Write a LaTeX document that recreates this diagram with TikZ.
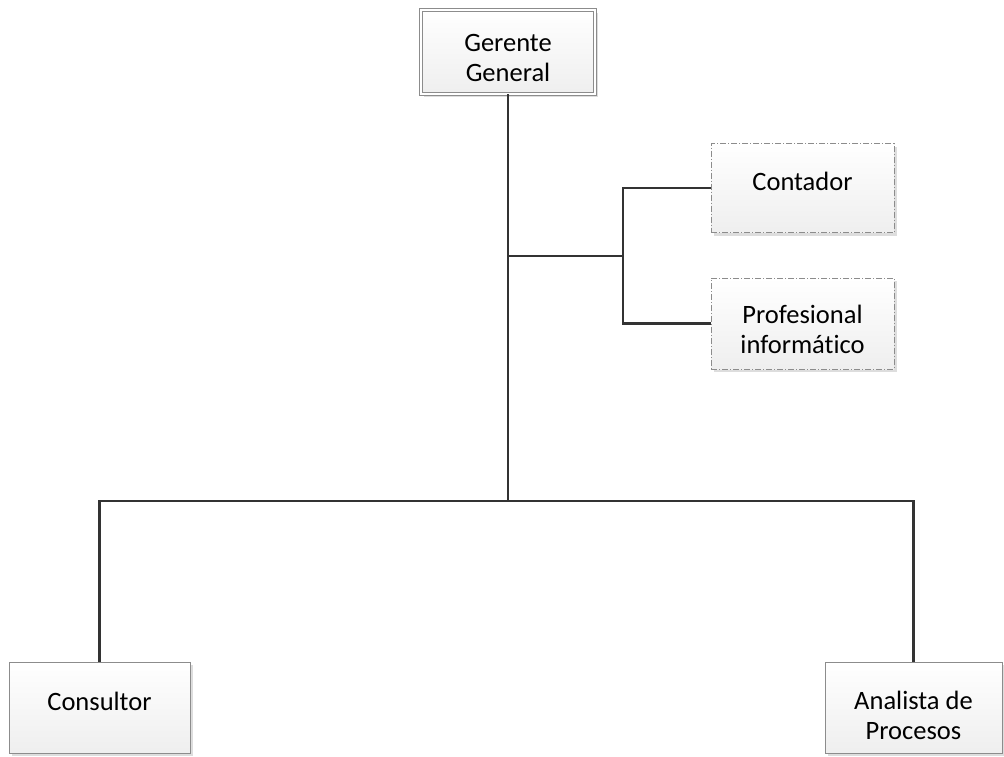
\documentclass[tikz,border=0pt]{standalone}
\usepackage{fontspec}
\setmainfont{Carlito}[Ligatures={NoCommon}]
\usetikzlibrary{shadows}
\definecolor{boxline}{HTML}{8C8C8C}
\definecolor{conn}{HTML}{333333}
\tikzset{
  x=1pt,y=-1pt,
  orgbox/.style={rectangle, draw=boxline, line width=0.9pt, top color=white, bottom color=gray!13,
    inner sep=0pt,
    drop shadow={shadow xshift=3pt, shadow yshift=-3pt, fill=gray!45, opacity=0.6}},
  dblbox/.style={orgbox, double=white, double distance=2.2pt, line width=0.8pt},
  dashbox/.style={orgbox, dash pattern=on 6pt off 2pt on 1pt off 2pt},
  txt/.style={align=center, font=\fontsize{26.5}{29.5}\selectfont, inner sep=0pt},
  link/.style={draw=conn, line width=2.2pt},
}
\begin{document}
\begin{tikzpicture}
\useasboundingbox (0,0) rectangle (1004,756);
\node[dblbox, minimum width=174pt, minimum height=84pt] (gg) at (508,52) {};
\node[dashbox, minimum width=183pt, minimum height=89pt] (cont) at (802.5,188) {};
\node[dashbox, minimum width=183pt, minimum height=91pt] (prof) at (802.5,323.5) {};
\node[orgbox, minimum width=181pt, minimum height=91pt] (cons) at (99.5,707.5) {};
\node[orgbox, minimum width=177pt, minimum height=91pt] (anal) at (913.5,707.5) {};
\node[txt, yshift=-6pt] (ggt) at (gg.center) {Gerente\\General};
\node[txt, yshift=7pt] (contt) at (cont.center) {Contador};
\node[txt, yshift=-6pt] (proft) at (prof.center) {Profesional\\informático};
\node[txt, yshift=6pt] (const) at (cons.center) {Consultor};
\node[txt, yshift=-8pt] (analt) at (anal.center) {Analista de\\Procesos};
\coordinate (hub) at (508,501);
\coordinate (mid) at (508,256);
\coordinate (sb) at (623,256);
\draw[link] (gg.south) -- (hub);
\draw[link] (mid) -- (sb);
\draw[link] (sb) |- (cont.west);
\draw[link] (sb) |- (prof.west);
\draw[link] (hub) -| (cons.north);
\draw[link] (hub) -| (anal.north);
\end{tikzpicture}
\end{document}
